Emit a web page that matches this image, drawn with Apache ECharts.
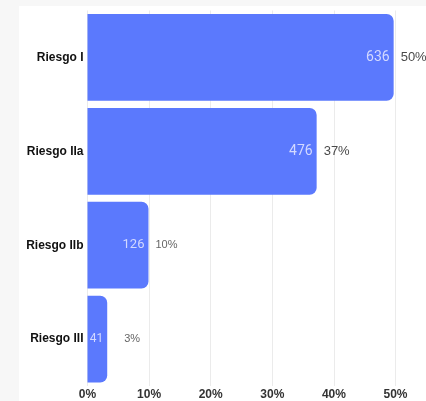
<!DOCTYPE html>
<html>
<head>
<meta charset="utf-8">
<script src="https://cdn.jsdelivr.net/npm/echarts@6/dist/echarts.min.js"></script>
<style>
  html, body { margin: 0; padding: 0; background: #f7f7f7; overflow: hidden; }
  #panel { position: absolute; left: 19px; top: 6px; width: 407px; height: 395px; background: #fff; }
  #main { width: 407px; height: 395px; }
</style>
</head>
<body>
<div id="panel"><div id="main"></div></div>
<script>
// categorias (de arriba a abajo)
var categories = ['Riesgo I', 'Riesgo IIa', 'Riesgo IIb', 'Riesgo III']
// casos por categoria
var counts = [636, 476, 126, 41]
// porcentaje del total
var percents = [49.7, 37.2, 9.9, 3.2]
var percentLabels = ['50%', '37%', '10%', '3%']
var xTicks = [0, 10, 20, 30, 40, 50]

var myChart = echarts.init(document.getElementById('main'))

// tamaño de las etiquetas, las barras pequeñas llevan texto mas chico
var pctSize = [13, 13, 11, 11]
var pctOffset = [0, 0, 0, 10]
var countSize = [14, 14, 13, 12]

var option = {
  animation: false,
  grid: {
    left: 68.5,
    width: 308,
    top: 4.5,
    bottom: 10.5,
    containLabel: false
  },
  xAxis: {
    type: 'value',
    min: xTicks[0],
    max: xTicks[xTicks.length - 1],
    interval: 10,
    axisLine: { show: false },
    axisTick: { show: false },
    splitLine: { lineStyle: { color: '#ebebeb', width: 1 } },
    axisLabel: {
      margin: 3,
      formatter: '{value}%',
      fontFamily: 'Liberation Sans',
      fontWeight: 'bold',
      fontSize: 12,
      color: '#333'
    }
  },
  yAxis: {
    type: 'category',
    inverse: true,
    data: categories,
    axisLine: { show: false },
    axisTick: { show: false },
    axisLabel: {
      margin: 4,
      fontFamily: 'Liberation Sans',
      fontWeight: 'bold',
      fontSize: 12,
      color: '#111'
    }
  },
  series: [
    {
      // barras con el numero de casos dentro
      type: 'bar',
      barCategoryGap: '7.5%',
      data: percents.map(function (v, i) {
        return { value: v, label: { fontSize: countSize[i] } }
      }),
      itemStyle: { color: '#5b79fd', borderRadius: [0, 7, 7, 0] },
      label: {
        show: true,
        position: 'insideRight',
        distance: 4,
        fontFamily: 'Roboto',
        color: '#d3d9ff',
        formatter: function (p) { return counts[p.dataIndex] }
      },
      z: 2
    },
    {
      // serie invisible solo para la etiqueta del porcentaje
      type: 'bar',
      barGap: '-100%',
      barCategoryGap: '7.5%',
      data: percents.map(function (v, i) {
        return {
          value: v,
          label: { fontSize: pctSize[i], offset: [pctOffset[i], 0], color: i > 1 ? '#666' : '#4a4a4a' }
        }
      }),
      itemStyle: { color: 'rgba(0,0,0,0)' },
      label: {
        show: true,
        position: 'right',
        distance: 7,
        fontFamily: 'Liberation Sans',
        formatter: function (p) { return percentLabels[p.dataIndex] }
      },
      silent: true,
      z: 3
    }
  ]
}

myChart.setOption(option)
</script>
</body>
</html>
